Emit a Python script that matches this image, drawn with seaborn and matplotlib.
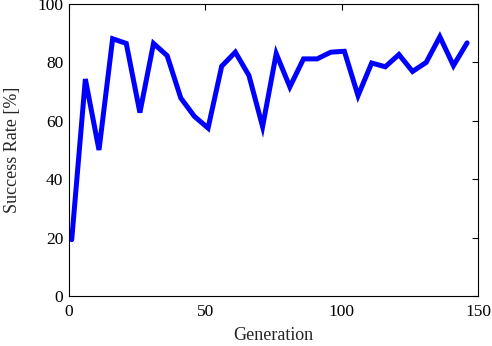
import matplotlib
matplotlib.use("Agg")
import matplotlib.pyplot as plt
import seaborn as sns
import pandas as pd

generation = [1, 6, 11, 16, 21, 26, 31, 36, 41, 46, 51, 56, 61, 66, 71, 76,
              81, 86, 91, 96, 101, 106, 111, 116, 121, 126, 131, 136, 141, 146]
success_rate = [19.3, 74.3, 50.0, 88.1, 86.5, 62.8, 86.5, 82.3, 67.8, 61.5,
                57.5, 78.7, 83.5, 75.5, 58.0, 83.0, 71.6, 81.2, 81.2, 83.5,
                83.8, 68.6, 79.8, 78.5, 82.7, 76.9, 80.0, 88.8, 78.9, 86.7]
x_ticks = [0, 50, 100, 150]
y_ticks = [0, 20, 40, 60, 80, 100]

sns.set_style("white")
plt.rcParams['font.family'] = ['Liberation Serif', 'DejaVu Serif']

df = pd.DataFrame({"Generation": generation, "Success Rate [%]": success_rate})

fig = plt.figure(figsize=(4.92, 3.46), dpi=100)
ax = fig.add_axes([69/492, 50/346, 409/492, 292/346])
sns.lineplot(data=df, x="Generation", y="Success Rate [%]", ax=ax,
             color="#0000ff", linewidth=3.6, solid_joinstyle="miter")
ax.set_xlim(0, 150)
ax.set_ylim(0, 100)
ax.set_xticks(x_ticks)
ax.set_yticks(y_ticks)
ax.tick_params(direction="in", length=4, width=0.8, top=True, right=True,
               labelsize=12.5, colors="black")
ax.tick_params(axis="x", pad=6)
ax.tick_params(axis="y", pad=4)
for s in ax.spines.values():
    s.set_color("black")
    s.set_linewidth(0.8)
ax.set_xlabel("Generation", fontsize=13, labelpad=5)
ax.set_ylabel("Success Rate [%]", fontsize=13, labelpad=12)
fig.savefig("out.png", dpi=100)
